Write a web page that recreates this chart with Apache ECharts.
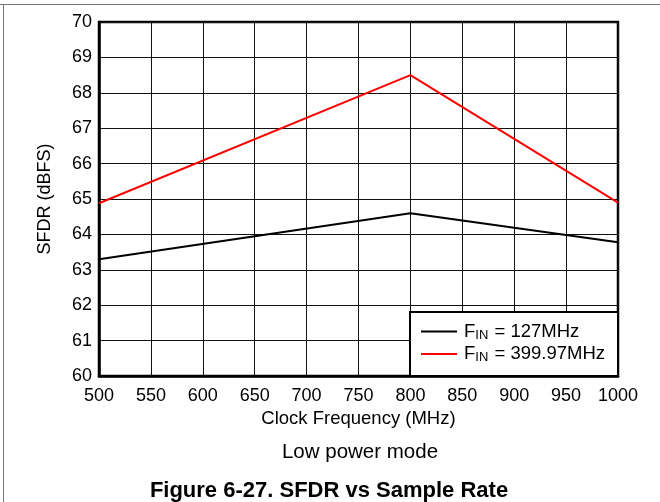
<!DOCTYPE html>
<html><head><meta charset="utf-8">
<script src="https://cdn.jsdelivr.net/npm/echarts@6/dist/echarts.min.js"></script>
<style>html,body{margin:0;padding:0;background:#fff}#c{width:660px;height:502px}</style>
</head><body><div id="c"></div>
<script>
const xValues = [500, 800, 1000];
const sfdr127 = [63.3, 64.6, 63.78];
const sfdr400 = [64.88, 68.5, 64.9];
const seriesNames = ['127MHz', '399.97MHz'];
const xTicks = [500, 550, 600, 650, 700, 750, 800, 850, 900, 950, 1000];
const yTicks = [60, 61, 62, 63, 64, 65, 66, 67, 68, 69, 70];

const font = 'Liberation Sans, Arial, sans-serif';
const chart = echarts.init(document.getElementById('c'), null, {renderer: 'canvas'});
const pair = (xs, ys) => xs.map((x, i) => [x, ys[i]]);
chart.setOption({
  backgroundColor: '#fff',
  animation: false,
  graphic: [
    {type: 'line', shape: {x1: 0, y1: 4.5, x2: 660, y2: 4.5}, style: {stroke: '#777', lineWidth: 1}},
    {type: 'line', shape: {x1: 3.5, y1: 4, x2: 3.5, y2: 502}, style: {stroke: '#777', lineWidth: 1}}
  ],
  title: [
    {text: 'Low power mode', left: 360, top: 442, padding: 0, textAlign: 'center',
     textStyle: {fontFamily: font, fontSize: 20.5, fontWeight: 'normal', color: '#000'}},
    {text: 'Figure 6-27. SFDR vs Sample Rate', left: 329, top: 480, padding: 0, textAlign: 'center',
     textStyle: {fontFamily: font, fontSize: 22, fontWeight: 'bold', color: '#000'}}
  ],
  grid: {left: 99, right: 42, top: 22, bottom: 126, show: true, borderColor: '#000', borderWidth: 2.5, containLabel: false},
  legend: {
    right: 42, bottom: 126, orient: 'vertical',
    backgroundColor: '#fff', borderColor: '#000', borderWidth: 2,
    padding: [10, 13, 12, 11], itemGap: 3, itemWidth: 36, itemHeight: 2, icon: 'rect',
    data: [
      {name: seriesNames[0]},
      {name: seriesNames[1]}
    ],
    formatter: n => '{a|F}{b|IN}{a| = ' + n + '}',
    textStyle: {
      fontFamily: font, color: '#000', padding: [0, 0, 0, 2],
      rich: {
        a: {fontFamily: font, fontSize: 18.5, color: '#000'},
        b: {fontFamily: font, fontSize: 13, color: '#000', verticalAlign: 'bottom', padding: [7, 1, 0, 0]}
      }
    }
  },
  xAxis: {
    type: 'value', min: 500, max: 1000, interval: 50,
    name: 'Clock Frequency (MHz)', nameLocation: 'middle', nameGap: 27,
    nameTextStyle: {fontFamily: font, fontSize: 18.5, color: '#000'},
    axisLine: {show: true, lineStyle: {color: '#000', width: 2.5}},
    axisTick: {show: false},
    axisLabel: {fontFamily: font, fontSize: 18, color: '#000', margin: 11,
      formatter: v => xTicks.includes(v) ? String(v) : ''},
    splitLine: {show: true, lineStyle: {color: '#111', width: 1}}
  },
  yAxis: {
    type: 'value', min: 60, max: 70, interval: 1,
    name: 'SFDR (dBFS)', nameLocation: 'middle', nameGap: 45, nameRotate: 90,
    nameTextStyle: {fontFamily: font, fontSize: 18, color: '#000'},
    axisLine: {show: true, lineStyle: {color: '#000', width: 2.5}},
    axisTick: {show: false},
    axisLabel: {fontFamily: font, fontSize: 18, color: '#000', margin: 7,
      formatter: v => yTicks.includes(v) ? String(v) : ''},
    splitLine: {show: true, lineStyle: {color: '#111', width: 1}}
  },
  series: [
    {name: seriesNames[0], type: 'line', data: pair(xValues, sfdr127), symbol: 'none',
     lineStyle: {color: '#000', width: 2}, itemStyle: {color: '#000'}},
    {name: seriesNames[1], type: 'line', data: pair(xValues, sfdr400), symbol: 'none',
     lineStyle: {color: '#f00', width: 2}, itemStyle: {color: '#f00'}}
  ]
});
</script></body></html>
